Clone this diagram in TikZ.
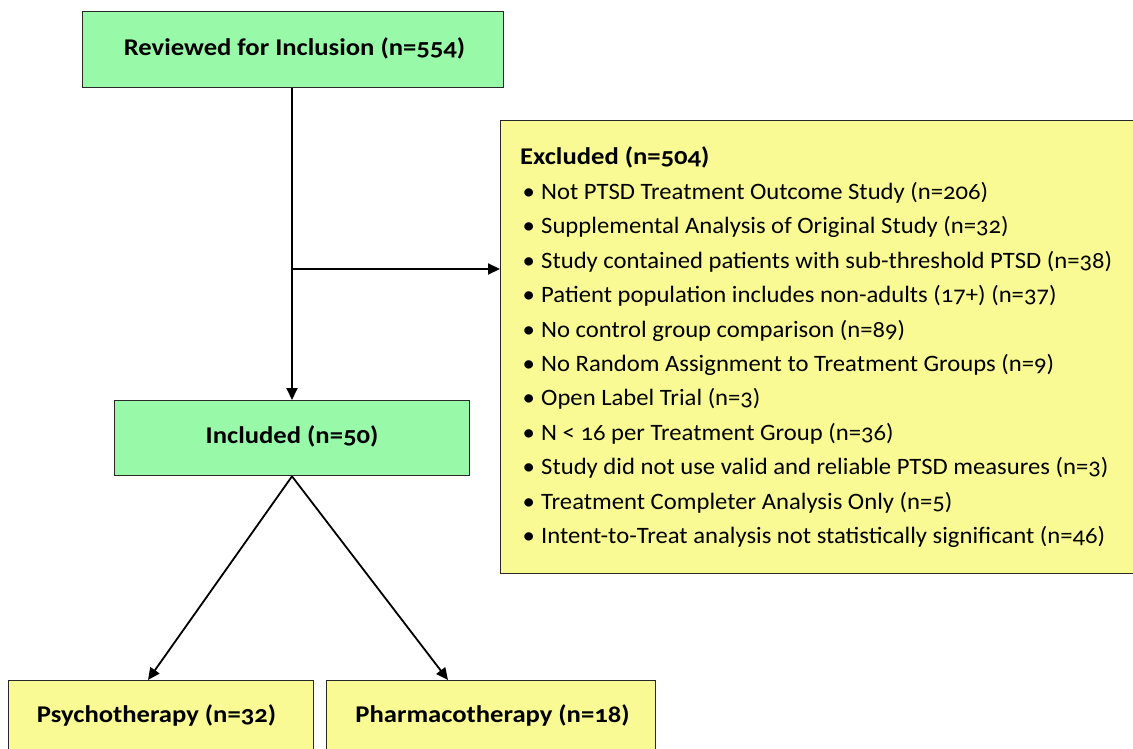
\documentclass[tikz,border=0pt]{standalone}
\usepackage{fontspec}
\setmainfont{Carlito}[Numbers=OldStyle, FakeStretch=1.05, BoldFeatures={FakeStretch=1.11}]
\usetikzlibrary{arrows.meta}
\definecolor{boxgreen}{RGB}{152,250,168}
\definecolor{boxyellow}{RGB}{250,250,148}
\definecolor{edge}{RGB}{40,40,40}
\tikzset{
  box/.style={draw=edge, line width=1.3pt, inner sep=0pt, anchor=north west},
  gbox/.style={box, fill=boxgreen},
  ybox/.style={box, fill=boxyellow},
  lbl/.style={font=\bfseries\fontsize{24}{28}\selectfont, inner sep=0pt, anchor=base},
  item/.style={font=\fontsize{23.5}{28}\selectfont, inner sep=0pt, anchor=base west},
  conn/.style={draw=black, line width=1.8pt, -{Triangle[length=12pt,width=11pt]}},
}
\begin{document}
\begin{tikzpicture}[x=1pt,y=-1pt]
\useasboundingbox (0,0) rectangle (1133,749);
\clip (0,0) rectangle (1133,749);
% boxes
\node[gbox, minimum width=421, minimum height=76] (reviewed) at (82,11) {};
\node[lbl] (reviewedlbl) at (294.5,55.5) {Reviewed for Inclusion (n=554)};
\node[gbox, minimum width=355, minimum height=75] (included) at (114,400) {};
\node[lbl] (includedlbl) at (292,443.5) {Included (n=50)};
\node[ybox, minimum width=650, minimum height=453] (excluded) at (500,120) {};
\node[ybox, minimum width=305, minimum height=72] (psych) at (8,680) {};
\node[lbl] (psychlbl) at (156.5,722) {Psychotherapy (n=32)};
\node[ybox, minimum width=329, minimum height=72] (pharma) at (326,680) {};
\node[lbl] (pharmalbl) at (492.5,722) {Pharmacotherapy (n=18)};
% excluded text
\node[item, font=\bfseries\fontsize{24}{28}\selectfont] (extitle) at (520,164.5) {Excluded (n=504)};
\foreach \t [count=\i from 0] in {
  {Not PTSD Treatment Outcome Study (n=206)},
  {Supplemental Analysis of Original Study (n=32)},
  {Study contained patients with sub-threshold PTSD (n=38)},
  {Patient population includes non-adults (17+) (n=37)},
  {No control group comparison (n=89)},
  {No Random Assignment to Treatment Groups (n=9)},
  {Open Label Trial (n=3)},
  {N < 16 per Treatment Group (n=36)},
  {Study did not use valid and reliable PTSD measures (n=3)},
  {Treatment Completer Analysis Only (n=5)},
  {Intent-to-Treat analysis not statistically significant (n=46)}}{
  \node[item] (bul\i) at (522.5,{199.5+34.4*\i}) {\textbullet};
  \node[item] (ex\i) at (541,{199.5+34.4*\i}) {\t};
}
% connectors
\coordinate (branch) at (292,269);
\draw[conn] (reviewed.south -| branch) -- (included.north -| branch);
\draw[conn] (branch) -- (branch -| excluded.west);
\draw[conn] (included.south -| branch) -- (148,680);
\draw[conn] (included.south -| branch) -- (448,680);
\end{tikzpicture}
\end{document}
